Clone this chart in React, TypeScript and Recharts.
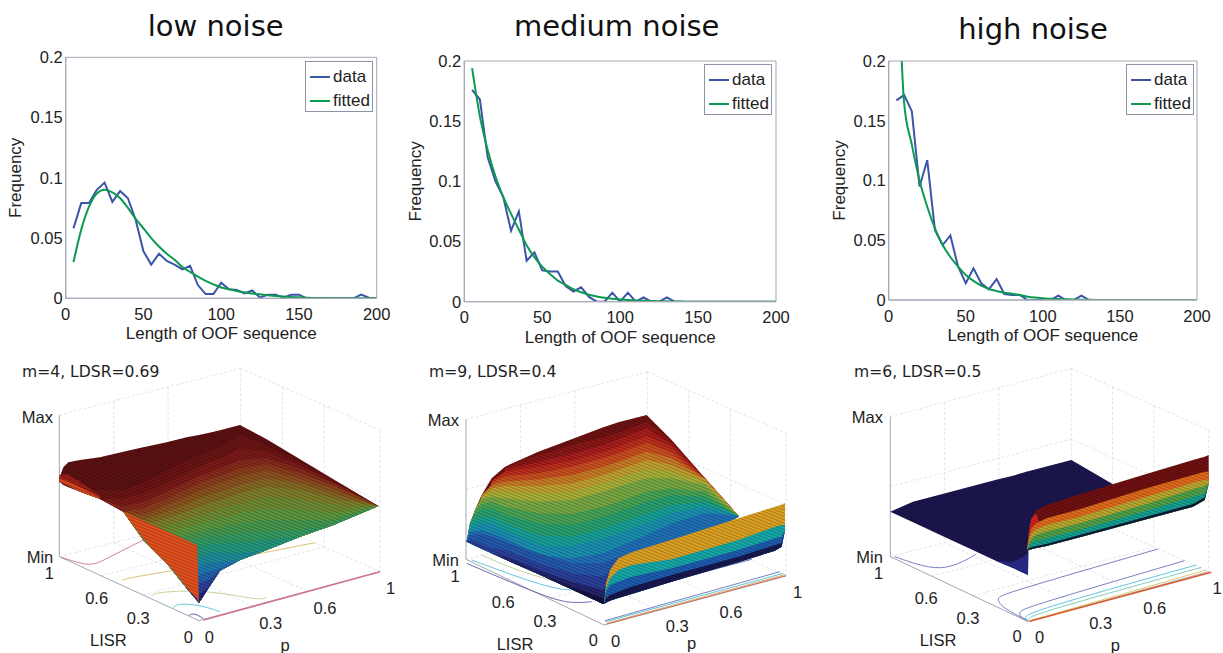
import { ComposedChart, Line, Area, XAxis, YAxis, Legend, ReferenceLine, ReferenceDot } from 'recharts'

const SANS = '"Liberation Sans", Arial, sans-serif'
const TITLE_FONT = '"DejaVu Sans", sans-serif'
const AXIS_GRAY = '#a3a7b3'
const DATA_BLUE = '#3b55a8'
const FIT_GREEN = '#0c9a52'
const A = 999 // this shade does not reach the station

// ---- top row: frequency of OOF sequence lengths
const oofLengths = [5, 10, 15, 20, 25, 30, 35, 40, 45, 50, 55, 60, 65, 70, 75, 80, 85, 90, 95, 100, 105, 110, 115, 120, 125, 130, 135, 140, 145, 150, 155, 160, 165, 170, 175, 180, 185, 190, 195, 200]
const lowData = [.058, .079, .079, .09, .096, .08, .089, .083, .065, .039, .028, .037, .031, .028, .024, .027, .011, .0035, .0035, .013, .0075, .007, .004, .0065, .0005, .003, .003, .0005, .003, .003, 0, 0, 0, 0, 0, 0, 0, .003, .0005, 0]
const lowFit = [.03, .057, .076, .087, .09, .088, .083, .075, .066, .058, .05, .043, .037, .032, .026, .022, .018, .0145, .0116, .009, .0075, .006, .005, .004, .0033, .0025, .002, .0015, .001, .0008, .0005, .0003, .0002, .0001, 0, 0, 0, 0, 0, 0]
const medData = [.176, .168, .12, .1, .087, .059, .075, .034, .041, .026, .025, .025, .013, .0085, .012, .004, 0, 0, .0075, 0, .0075, 0, .0035, 0, 0, .0035, 0, 0, 0, 0, 0, 0, 0, 0, 0, 0, 0, 0, 0, 0]
const medFit = [.194, .154, .126, .104, .087, .073, .06, .047, .037, .029, .023, .0175, .014, .0105, .0078, .0058, .0044, .0033, .0025, .0019, .0014, .001, .0008, .0006, .0004, .0003, .0002, .0001, 0, 0, 0, 0, 0, 0, 0, 0, 0, 0, 0, 0]
const highData = [.167, .1715, .158, .095, .117, .0585, .046, .054, .028, .014, .0265, .014, .009, .0175, .005, .0042, .0042, 0, 0, 0, 0, .0036, 0, 0, .0036, 0, 0, 0, 0, 0, 0, 0, 0, 0, 0, 0, 0, 0, 0, 0]
const highFit = [.325, .165, .13, .1, .078, .06, .046, .036, .028, .021, .016, .012, .0092, .0075, .006, .0053, .0042, .0028, .002, .0015, .001, .0008, .0006, .0004, .0003, .0002, .0001, 0, 0, 0, 0, 0, 0, 0, 0, 0, 0, 0, 0, 0]
const xTicks = [0, 50, 100, 150, 200]
const yTicks = [0, 0.05, 0.1, 0.15, 0.2]

// ---- bottom row: projected surfaces, read in view units of a 1230x909 panel
const VIEW_W = 1230
const VIEW_H = 909

const s1X = [178, 190, 205, 240, 300, 370, 430, 500, 560, 597, 625, 660, 720, 800, 900, 1000, 1135]
const s1Top = [385, 352, 337, 330, 322, 305, 292, 277, 262, 255, 249, 241, 225, 268, 328, 388, 468]
const s1Bottom = [395, 405, 412, 425, 447, 485, 570, 640, 715, 758, 715, 662, 630, 600, 560, 525, 468]
const s1Bands = [
  { color: '#5c1012', ys: [0, 0, 0, 0, 0, 0, 0, 0, 0, 0, 0, 0, 0, 0, 0, 0, 0] },
  { color: '#6a1414', ys: [A, A, A, A, 420, 420, 395, 360, 330, 315, 305, 290, 255, 285, 335, 390, 468] },
  { color: '#7a1a18', ys: [A, A, A, A, A, 445, 430, 400, 370, 350, 340, 325, 295, 305, 345, 395, 468] },
  { color: '#862a1c', ys: [A, A, A, A, A, 470, 455, 425, 395, 378, 368, 355, 330, 325, 355, 400, 468] },
  { color: '#8a3e1e', ys: [A, A, A, A, A, A, 475, 445, 418, 400, 390, 378, 355, 342, 370, 405, 468] },
  { color: '#8a521f', ys: [A, A, A, A, A, A, 495, 465, 440, 422, 412, 400, 378, 362, 385, 415, 468] },
  { color: '#846824', ys: [A, A, A, A, A, A, 510, 485, 462, 445, 435, 425, 405, 385, 400, 430, 470] },
  { color: '#7c7e2a', ys: [A, A, A, A, A, A, 525, 505, 485, 470, 460, 450, 430, 410, 420, 445, 472] },
  { color: '#6e8a34', ys: [A, A, A, A, A, A, A, 525, 508, 495, 488, 478, 462, 440, 448, 465, 475] },
  { color: '#5c963e', ys: [A, A, A, A, A, A, A, 550, 532, 520, 512, 505, 490, 475, 480, 490, 478] },
  { color: '#46984e', ys: [A, A, A, A, A, A, A, 575, 555, 542, 538, 530, 520, 510, 510, 508, A] },
  { color: '#349a62', ys: [A, A, A, A, A, A, A, 600, 580, 565, 560, 555, 550, 545, 540, 520, A] },
  { color: '#24967c', ys: [A, A, A, A, A, A, A, A, 615, 590, 582, 578, 578, 570, A, A, A] },
  { color: '#1e8c98', ys: [A, A, A, A, A, A, A, A, A, 620, 610, 605, 610, A, A, A, A] },
  { color: '#2078b0', ys: [A, A, A, A, A, A, A, A, A, 650, 640, 635, A, A, A, A, A] },
  { color: '#2460aa', ys: [A, A, A, A, A, A, A, A, A, 675, 665, 655, A, A, A, A, A] },
  { color: '#2a4098', ys: [A, A, A, A, A, A, A, A, A, 700, 690, 672, A, A, A, A, A] },
  { color: '#281e78', ys: [A, A, A, A, A, A, A, A, A, 735, 712, A, A, A, A, A, A] },
]
const w1X = [370, 450, 510, 570, 590, 592, 597]
const w1Top = [485, 521, 548, 575, 585, 600, 755]
const w1Bottom = [487, 590, 650, 725, 745, 748, 758]
const w1Bands = [{ color: '#e2501e', ys: [0, 0, 0, 0, 0, 0, 0] }]
const t1X = [178, 200, 240, 300]
const t1Top = [375, 372, 395, 437]
const t1Bottom = [395, 405, 425, 447]
const t1Bands = [
  { color: '#9a2018', ys: [0, 0, 0, 0] },
  { color: '#d4481e', ys: [385, 392, 412, 442] },
]

const s2X = [185, 195, 210, 230, 260, 300, 400, 500, 595, 640, 725, 800, 900, 1000]
const s2Top = [572, 520, 480, 435, 385, 350, 305, 268, 232, 217, 195, 270, 385, 497]
const s2Bottom = [575, 580, 587, 596, 610, 628, 672, 718, 762, 640, 615, 590, 555, 500]
const s2Bands = [
  { color: '#6e1212', ys: [0, 0, 0, 0, 0, 0, 0, 0, 0, 0, 0, 0, 0, 0] },
  { color: '#8a1616', ys: [A, A, A, A, A, 352, 315, 285, 262, 248, 215, 272, 385, 497] },
  { color: '#a81e1c', ys: [A, A, A, A, A, 358, 335, 312, 285, 268, 235, 282, 385, 497] },
  { color: '#bc2e1c', ys: [A, A, A, A, 392, 365, 350, 332, 305, 290, 258, 292, 385, 497] },
  { color: '#c84e20', ys: [A, A, A, A, 398, 378, 370, 350, 325, 310, 278, 308, 385, 497] },
  { color: '#c87a26', ys: [A, A, A, 430, 405, 395, 388, 375, 350, 335, 305, 325, 385, 497] },
  { color: '#c0a030', ys: [A, A, A, 438, 415, 408, 408, 400, 375, 360, 330, 345, 388, 497] },
  { color: '#a8b038', ys: [A, A, 470, 442, 425, 425, 430, 425, 400, 385, 358, 365, 395, 497] },
  { color: '#78a844', ys: [A, A, 478, 448, 440, 445, 455, 450, 425, 410, 385, 385, 405, 497] },
  { color: '#48a455', ys: [A, 510, 482, 462, 455, 470, 490, 492, 470, 455, 425, 415, 425, 497] },
  { color: '#2aa070', ys: [A, 518, 495, 478, 475, 495, 520, 525, 500, 485, 455, 435, 440, 497] },
  { color: '#18a098', ys: [A, 525, 510, 505, 500, 520, 555, 560, 535, 520, 490, 465, 455, 497] },
  { color: '#1a90b0', ys: [540, 535, 530, 520, 520, 540, 585, 590, 565, 550, 520, 490, 470, 497] },
  { color: '#2070b8', ys: [555, 545, 545, 540, 550, 565, 615, 625, 610, 590, 555, 520, 490, 497] },
  { color: '#2458ac', ys: [560, 555, 555, 552, 560, 575, 610, 640, 640, 620, 600, 600, 600, 600] },
  { color: '#2a3f98', ys: [565, 570, 575, 582, 595, 600, 640, 670, 680, A, A, A, A, A] },
  { color: '#24246c', ys: [A, A, A, A, A, 620, 660, 695, 720, A, A, A, A, A] },
  { color: '#14103c', ys: [A, A, A, A, A, A, A, 712, 745, A, A, A, A, A] },
]
const w2X = [597, 603, 615, 640, 680, 800, 1000, 1110, 1130, 1140]
const w2Top = [762, 700, 660, 625, 607, 569, 505, 470, 464, 460]
const w2Bottom = [762, 758, 752, 744, 732, 695, 637, 602, 590, 540]
const w2Bands = [
  { color: '#dca022', ys: [0, 0, 0, 0, 0, 0, 0, 0, 0, 0] },
  { color: '#16a8a8', ys: [762, 715, 685, 660, 645, 628, 570, 530, 525, 525] },
  { color: '#1c5cb0', ys: [762, 725, 705, 695, 680, 655, 600, 565, 560, 565] },
  { color: '#181850', ys: [762, 745, 735, 725, 710, 675, 620, 585, 580, 575] },
]

const s3X = [232, 300, 400, 550, 600, 645, 646, 775, 900]
const s3Top = [485, 455, 429, 389, 377, 364, 364, 330, 403]
const s3Bottom = [485, 517, 563, 633, 654, 675, 600, 450, 403]
const s3Bands = [
  { color: '#1c1650', ys: [0, 0, 0, 0, 0, 0, 0, 0, 0] },
  { color: '#2a2a8c', ys: [A, A, A, A, 635, 612, A, A, A] },
]
const w3X = [642, 648, 655, 670, 700, 800, 1000, 1140, 1175, 1187]
const w3Top = [600, 540, 505, 480, 465, 433, 372, 330, 320, 315]
const w3Bottom = [600, 600, 598, 594, 588, 562, 508, 470, 450, 400]
const w3Bands = [
  { color: '#701010', ys: [0, 0, 0, 0, 0, 0, 0, 0, 0, 0] },
  { color: '#cc2420', ys: [600, 540, 505, 490, A, A, A, A, A, A] },
  { color: '#e06a1c', ys: [600, 560, 535, 520, 505, 478, 415, 375, 365, 365] },
  { color: '#b8a830', ys: [600, 570, 550, 538, 525, 500, 440, 398, 390, 390] },
  { color: '#50a048', ys: [600, 578, 565, 555, 545, 520, 462, 418, 408, 405] },
  { color: '#14a090', ys: [600, 585, 578, 572, 565, 540, 482, 440, 430, 425] },
  { color: '#101838', ys: [600, 595, 592, 588, 582, 555, 500, 462, 442, 400] },
]

// contour lines on the floor of each box
const floor1 = [
  { color: '#c8708a', pts: [[185, 622], [245, 642], [285, 645], [330, 620], [440, 565]] },
  { color: '#d8b860', pts: [[365, 692], [372, 686], [530, 660], [740, 618], [945, 578]] },
  { color: '#b8d090', pts: [[455, 738], [465, 727], [590, 720], [700, 735], [780, 750], [800, 742]] },
  { color: '#50c0d8', pts: [[520, 772], [535, 760], [600, 765], [660, 785]] },
  { color: '#4a4a90', pts: [[567, 797], [580, 788], [610, 805]] },
  { color: '#d07890', pts: [[610, 810], [1140, 665]], width: 1.6 },
]
const floor2 = [
  { color: '#b8d090', pts: [[230, 615], [330, 660], [470, 700]] },
  { color: '#50c0d8', pts: [[200, 630], [430, 715], [500, 720]] },
  { color: '#5a5aa8', pts: [[185, 640], [430, 745], [500, 760], [560, 755]] },
  { color: '#5a5aa8', pts: [[600, 745], [1040, 628]] },
  { color: '#6a70b8', pts: [[600, 812], [1125, 665]] },
  { color: '#50c0d8', pts: [[602, 815], [1135, 670]] },
  { color: '#d0a060', pts: [[604, 820], [1140, 674]] },
  { color: '#d06a50', pts: [[606, 822], [1143, 677]] },
]
const floor3 = [
  { color: '#6a70b8', pts: [[245, 620], [330, 650], [400, 658], [470, 625], [490, 612]] },
  { color: '#6a70b8', pts: [[645, 812], [570, 775], [548, 745], [575, 730], [1035, 597]] },
  { color: '#6a70b8', pts: [[645, 812], [620, 800], [618, 785], [645, 770], [1115, 632]] },
  { color: '#50c0d8', pts: [[645, 812], [632, 804], [655, 783], [1150, 645]] },
  { color: '#70c8b0', pts: [[645, 812], [645, 806], [670, 790], [1165, 652]] },
  { color: '#d8c060', pts: [[647, 813], [1180, 660]] },
  { color: '#d85a30', pts: [[650, 814], [1195, 667]], width: 1.6 },
]

const labels1 = [['Max', 112, 200], ['Min', 120, 620], ['1', 148, 668], ['0.6', 290, 745], ['0.3', 415, 803], ['0', 565, 860], ['0', 628, 860], ['0.3', 812, 820], ['0.6', 975, 775], ['1', 1172, 715], ['LISR', 325, 870], ['p', 855, 885]]
const labels2 = [['Max', 115, 210], ['Min', 122, 630], ['1', 150, 678], ['0.6', 295, 755], ['0.3', 420, 812], ['0', 565, 870], ['0', 632, 872], ['0.3', 817, 828], ['0.6', 978, 785], ['1', 1178, 725], ['LISR', 330, 882], ['p', 860, 880]]
const labels3 = [['Max', 163, 200], ['Min', 170, 620], ['1', 197, 668], ['0.6', 340, 745], ['0.3', 465, 803], ['0', 612, 858], ['0', 680, 862], ['0.3', 863, 820], ['0.6', 1025, 775], ['1', 1212, 715], ['LISR', 375, 870], ['p', 907, 885]]

type Band = { color: string; ys: number[] }
type Sheet = { xs: number[]; top: number[]; bottom: number[]; bands: Band[] }
type Box = { lx: number; lt: number; lb: number; bx: number; bt: number; bb: number; rx: number; rt: number; rb: number; fx: number; fb: number }

function bandRows(sheet: Sheet, band: Band) {
  return sheet.xs.map((x, i) => ({
    x,
    range: [Math.min(Math.max(sheet.top[i], band.ys[i]), sheet.bottom[i]), sheet.bottom[i]],
  }))
}

function outlineRows(sheet: Sheet) {
  return sheet.xs.map((x, i) => ({ x, range: [sheet.top[i], sheet.bottom[i]] }))
}

function frameLines(b: Box) {
  const at = (x1: number, y1: number, x2: number, y2: number, t: number) => [x1 + (x2 - x1) * t, y1 + (y2 - y1) * t]
  const solid = [[b.lx, b.lt, b.lx, b.lb], [b.lx, b.lb, b.fx, b.fb], [b.fx, b.fb, b.rx, b.rb]]
  const dashed = [
    [b.lx, b.lt, b.bx, b.bt], [b.bx, b.bt, b.rx, b.rt], [b.bx, b.bt, b.bx, b.bb], [b.rx, b.rt, b.rx, b.rb],
    [b.lx, b.lb, b.bx, b.bb], [b.bx, b.bb, b.rx, b.rb], [b.lx, (b.lt + b.lb) / 2, b.bx, (b.bt + b.bb) / 2], [b.bx, (b.bt + b.bb) / 2, b.rx, (b.rt + b.rb) / 2],
  ]
  for (const t of [0.3, 0.6]) {
    const [ax, at1] = at(b.lx, b.lt, b.bx, b.bt, t)
    const [, ab] = at(b.lx, b.lb, b.bx, b.bb, t)
    dashed.push([ax, at1, ax, ab])
    const [cx, ct] = at(b.bx, b.bt, b.rx, b.rt, t)
    const [, cb] = at(b.bx, b.bb, b.rx, b.rb, t)
    dashed.push([cx, ct, cx, cb])
    const [fx1, fy1] = at(b.lx, b.lb, b.fx, b.fb, t)
    const [fx2, fy2] = at(b.bx, b.bb, b.rx, b.rb, t)
    dashed.push([fx1, fy1, fx2, fy2])
    const [gx1, gy1] = at(b.fx, b.fb, b.rx, b.rb, t)
    const [gx2, gy2] = at(b.lx, b.lb, b.bx, b.bb, t)
    dashed.push([gx1, gy1, gx2, gy2])
  }
  return { solid, dashed }
}

const viewAxes = [
  <XAxis key="x" dataKey="x" type="number" domain={[0, VIEW_W]} hide allowDataOverflow />,
  <YAxis key="y" type="number" domain={[0, VIEW_H]} reversed hide allowDataOverflow />,
]

function SheetAreas({ sheet, id }: { sheet: Sheet; id: string }) {
  return (
    <>
      {sheet.bands.map((band, i) => (
        <Area key={`${id}-${i}`} data={bandRows(sheet, band)} dataKey="range" type="linear" fill={band.color} fillOpacity={1} stroke="none" dot={false} activeDot={false} isAnimationActive={false} />
      ))}
      <Area data={outlineRows(sheet)} dataKey="range" type="linear" fill={`url(#${id})`} fillOpacity={1} stroke="none" dot={false} activeDot={false} isAnimationActive={false} />
    </>
  )
}

interface PanelProps {
  id: string
  left: number
  box: Box
  floor: { color: string; pts: number[][]; width?: number }[]
  sheets: Sheet[]
  labels: (string | number)[][]
  heading: string
  headingX: number
}

function SurfacePanel({ id, left, box, floor, sheets, labels, heading, headingX }: PanelProps) {
  const { solid, dashed } = frameLines(box)
  const size = { width: 410, height: 303, margin: { top: 0, right: 0, bottom: 0, left: 0 } }
  return (
    <div style={{ position: 'absolute', left, top: 350, width: 410, height: 303 }}>
      <div style={{ position: 'absolute', left: 0, top: 0 }}>
        <ComposedChart {...size}>
          {viewAxes}
          {dashed.map((s, i) => (
            <ReferenceLine key={`d${i}`} segment={[{ x: s[0], y: s[1] }, { x: s[2], y: s[3] }]} stroke="#dcdde6" strokeWidth={0.8} strokeDasharray="3 2" ifOverflow="visible" />
          ))}
          {solid.map((s, i) => (
            <ReferenceLine key={`s${i}`} segment={[{ x: s[0], y: s[1] }, { x: s[2], y: s[3] }]} stroke={AXIS_GRAY} strokeWidth={1} ifOverflow="visible" />
          ))}
          {floor.map((c, i) => (
            <Line key={`f${i}`} data={c.pts.map(p => ({ x: p[0], y: p[1] }))} dataKey="y" type="basis" stroke={c.color} strokeWidth={c.width ?? 0.9} dot={false} activeDot={false} isAnimationActive={false} />
          ))}
        </ComposedChart>
      </div>
      <div style={{ position: 'absolute', left: 0, top: 0 }}>
        <ComposedChart {...size}>
          <defs>
            <pattern id={id} width="3" height="3" patternUnits="userSpaceOnUse" patternTransform="rotate(22)">
              <line x1="0" y1="0.5" x2="3" y2="0.5" stroke="#000" strokeWidth="1" strokeOpacity="0.24" />
            </pattern>
          </defs>
          {viewAxes}
          {sheets.map((sheet, i) => (
            <SheetAreas key={i} sheet={sheet} id={id} />
          ))}
          {labels.map((l, i) => (
            <ReferenceDot key={i} x={l[1] as number} y={l[2] as number} r={0} stroke="none" ifOverflow="visible"
              label={{ value: l[0] as string, position: 'center', style: { fontFamily: SANS, fontSize: 16.5, fill: '#222' } }} />
          ))}
        </ComposedChart>
      </div>
      <div style={{ position: 'absolute', left: headingX, top: 13, fontFamily: TITLE_FONT, fontSize: 15.6, color: '#222', whiteSpace: 'nowrap' }}>{heading}</div>
    </div>
  )
}

function FrameLegend({ payload, width, height }: any) {
  return (
    <div style={{ width, height, boxSizing: 'border-box', border: '1px solid #8d94a6', background: '#fff', position: 'relative', fontFamily: SANS, fontSize: 17, color: '#222' }}>
      {(payload ?? []).map((p: any, i: number) => (
        <div key={p.value} style={{ position: 'absolute', left: 0, top: 4 + i * 24, height: 22, lineHeight: '22px' }}>
          <span style={{ position: 'absolute', left: 4, top: 10, width: 20, height: 2, background: p.color }} />
          <span style={{ position: 'absolute', left: 27 }}>{p.value}</span>
        </div>
      ))}
    </div>
  )
}

interface FreqProps {
  left: number
  plot: { l: number; r: number; t: number; b: number }
  data: number[]
  fit: number[]
  legendAt: [number, number]
  yLabelX: number
}

const noText = () => ''

function FrequencyChart({ left, plot, data, fit, legendAt, yLabelX }: FreqProps) {
  const rows = oofLengths.map((x, i) => ({ x, data: data[i], fitted: fit[i] }))
  const innerProps = { stroke: AXIS_GRAY, tickLine: { stroke: AXIS_GRAY }, mirror: true, tickSize: 4, tickFormatter: noText }
  return (
    <div style={{ position: 'absolute', left, top: 0 }}>
      {/* the two labelled axes take 1px each out of the margins */}
      <ComposedChart width={410} height={350} data={rows} margin={{ top: plot.t, left: plot.l - 1, right: 410 - plot.r, bottom: 350 - plot.b - 1 }}>
        <XAxis dataKey="x" type="number" domain={[0, 200]} ticks={xTicks} height={1} tickLine={false} tickSize={0} stroke={AXIS_GRAY} tickMargin={10}
          tick={{ fill: '#222', fontSize: 16.5, fontFamily: SANS }}
          label={{ value: 'Length of OOF sequence', position: 'bottom', offset: 28, style: { fontFamily: SANS, fontSize: 17, fill: '#222' } }} />
        <XAxis xAxisId="inner" type="number" domain={[0, 200]} ticks={xTicks} height={1} {...innerProps} />
        <XAxis xAxisId="top" orientation="top" type="number" domain={[0, 200]} ticks={xTicks} height={1} {...innerProps} />
        <YAxis type="number" domain={[0, 0.2]} ticks={yTicks} width={1} tickLine={false} tickSize={0} stroke={AXIS_GRAY} tickMargin={3} allowDataOverflow
          tickFormatter={(v: number) => String(v)}
          tick={{ fill: '#222', fontSize: 16.5, fontFamily: SANS }}
          label={{ value: 'Frequency', position: 'left', angle: -90, offset: plot.l - yLabelX, style: { fontFamily: SANS, fontSize: 17, fill: '#222', textAnchor: 'middle' } }} />
        <YAxis yAxisId="inner" type="number" domain={[0, 0.2]} ticks={yTicks} width={1} {...innerProps} />
        <YAxis yAxisId="right" orientation="right" type="number" domain={[0, 0.2]} ticks={yTicks} width={1} {...innerProps} />
        <Legend layout="horizontal" verticalAlign="middle" align="center" width={68} height={51}
          wrapperStyle={{ position: 'absolute', left: legendAt[0], top: legendAt[1], width: 68, height: 51, margin: 0 }}
          content={<FrameLegend width={68} height={51} />} />
        <Line dataKey="data" name="data" type="linear" stroke={DATA_BLUE} strokeWidth={2} dot={false} activeDot={false} isAnimationActive={false} />
        <Line dataKey="fitted" name="fitted" type="monotone" stroke={FIT_GREEN} strokeWidth={2} dot={false} activeDot={false} isAnimationActive={false} />
      </ComposedChart>
    </div>
  )
}

const titles: [string, number, number][] = [['low noise', 215.7, 26], ['medium noise', 616.7, 26], ['high noise', 1033, 29]]

export default function App() {
  return (
    <div style={{ position: 'absolute', left: 0, top: 0, width: 1223, height: 653, overflow: 'hidden', background: '#fff' }}>
      {titles.map(([t, x, y]) => (
        <div key={t} style={{ position: 'absolute', left: x - 150, top: y - 20, width: 300, height: 40, lineHeight: '40px', textAlign: 'center', fontFamily: TITLE_FONT, fontSize: 29, color: '#111' }}>{t}</div>
      ))}
      <FrequencyChart left={0} plot={{ l: 65.7, r: 376.7, t: 57.3, b: 298.3 }} data={lowData} fit={lowFit} legendAt={[305, 61]} yLabelX={16} />
      <FrequencyChart left={400} plot={{ l: 64.3, r: 376, t: 61, b: 301.7 }} data={medData} fit={medFit} legendAt={[304, 64]} yLabelX={16} />
      <FrequencyChart left={813} plot={{ l: 75.7, r: 384, t: 61, b: 300 }} data={highData} fit={highFit} legendAt={[313, 64]} yLabelX={27} />
      <SurfacePanel id="mesh1" left={0} heading="m=4, LDSR=0.69" headingX={22} floor={floor1} labels={labels1}
        box={{ lx: 178, lt: 195, lb: 620, bx: 722, bt: 55, bb: 480, rx: 1140, rt: 240, rb: 665, fx: 597, fb: 812 }}
        sheets={[{ xs: s1X, top: s1Top, bottom: s1Bottom, bands: s1Bands }, { xs: t1X, top: t1Top, bottom: t1Bottom, bands: t1Bands }, { xs: w1X, top: w1Top, bottom: w1Bottom, bands: w1Bands }]} />
      <SurfacePanel id="mesh2" left={405} heading="m=9, LDSR=0.4" headingX={24} floor={floor2} labels={labels2}
        box={{ lx: 183, lt: 208, lb: 628, bx: 727, bt: 65, bb: 490, rx: 1143, rt: 250, rb: 678, fx: 597, fb: 825 }}
        sheets={[{ xs: s2X, top: s2Top, bottom: s2Bottom, bands: s2Bands }, { xs: w2X, top: w2Top, bottom: w2Bottom, bands: w2Bands }]} />
      <SurfacePanel id="mesh3" left={813} heading="m=6, LDSR=0.5" headingX={41} floor={floor3} labels={labels3}
        box={{ lx: 232, lt: 200, lb: 620, bx: 775, bt: 55, bb: 480, rx: 1187, rt: 240, rb: 665, fx: 645, fb: 815 }}
        sheets={[{ xs: s3X, top: s3Top, bottom: s3Bottom, bands: s3Bands }, { xs: w3X, top: w3Top, bottom: w3Bottom, bands: w3Bands }]} />
    </div>
  )
}
